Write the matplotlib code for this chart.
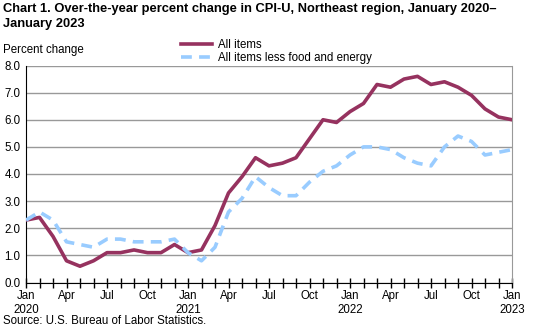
import matplotlib
matplotlib.use("Agg")
import matplotlib.pyplot as plt
import numpy as np

plt.rcParams['font.family'] = ['Liberation Sans', 'DejaVu Sans']

# monthly values, Jan 2020 - Jan 2023
all_items = [2.3, 2.4, 1.7, 0.8, 0.6, 0.8, 1.1, 1.1, 1.2, 1.1, 1.1, 1.4,
             1.1, 1.2, 2.1, 3.3, 3.9, 4.6, 4.3, 4.4, 4.6, 5.3, 6.0, 5.9,
             6.3, 6.6, 7.3, 7.2, 7.5, 7.6, 7.3, 7.4, 7.2, 6.9, 6.4, 6.1,
             6.0]
core = [2.3, 2.6, 2.3, 1.5, 1.4, 1.3, 1.6, 1.6, 1.5, 1.5, 1.5, 1.6,
        1.1, 0.8, 1.3, 2.6, 3.1, 3.9, 3.5, 3.2, 3.2, 3.7, 4.1, 4.3,
        4.7, 5.0, 5.0, 4.9, 4.6, 4.4, 4.3, 5.0, 5.4, 5.2, 4.7, 4.8,
        4.9]
tick_labels = ['Jan\n2020', 'Apr', 'Jul', 'Oct', 'Jan\n2021', 'Apr', 'Jul', 'Oct',
               'Jan\n2022', 'Apr', 'Jul', 'Oct', 'Jan\n2023']
y_ticks = [0, 1, 2, 3, 4, 5, 6, 7, 8]

x = np.arange(len(all_items))

fig = plt.figure(figsize=(5.33, 3.29), dpi=100)
ax = fig.add_axes([26 / 533, 1 - 282.5 / 329, 486 / 533, 217 / 329])

ax.plot(x, all_items, color='#96325F', lw=2.6, label='All items', zorder=3)
ax.plot(x, core, color='#99CCFF', lw=2.6, ls=(0, (3, 2)), label='All items less food and energy', zorder=3)

ax.set_xlim(0, 36)
ax.set_ylim(0, 8)
ax.set_yticks(y_ticks)
ax.set_yticklabels([f'{v:.1f}' for v in y_ticks])
ax.set_xticks(x)
ax.set_xticklabels([tick_labels[i // 3] if i % 3 == 0 else '' for i in x], linespacing=1.2)
ax.yaxis.grid(True, color='#999999', lw=1)
ax.set_axisbelow(True)

ax.spines['top'].set_visible(False)
ax.spines['right'].set_color('#999999')
ax.spines['left'].set_color('black')
ax.spines['bottom'].set_color('black')
ax.tick_params(axis='x', direction='inout', length=7, width=1, labelsize=8.3, pad=2)
ax.tick_params(axis='y', length=0, labelsize=8.3, pad=4)

fig.text(3 / 533, 1 - 3 / 329, 'Chart 1. Over-the-year percent change in CPI-U, Northeast region, January 2020–\nJanuary 2023',
         fontsize=9.3, fontweight='bold', va='top', ha='left', linespacing=1.3)
fig.text(3 / 533, 1 - 50 / 329, 'Percent change', fontsize=8.3, va='center', ha='left')
fig.text(3 / 533, 1 - 321 / 329, 'Source: U.S. Bureau of Labor Statistics.', fontsize=8.3, va='center', ha='left')

fig.legend(loc='upper left', bbox_to_anchor=(175 / 533, 1 - 33 / 329), frameon=False,
           fontsize=8.3, handlelength=2.7, handletextpad=0.5, labelspacing=0.15, borderpad=0)

fig.savefig('out.png', dpi=100)
